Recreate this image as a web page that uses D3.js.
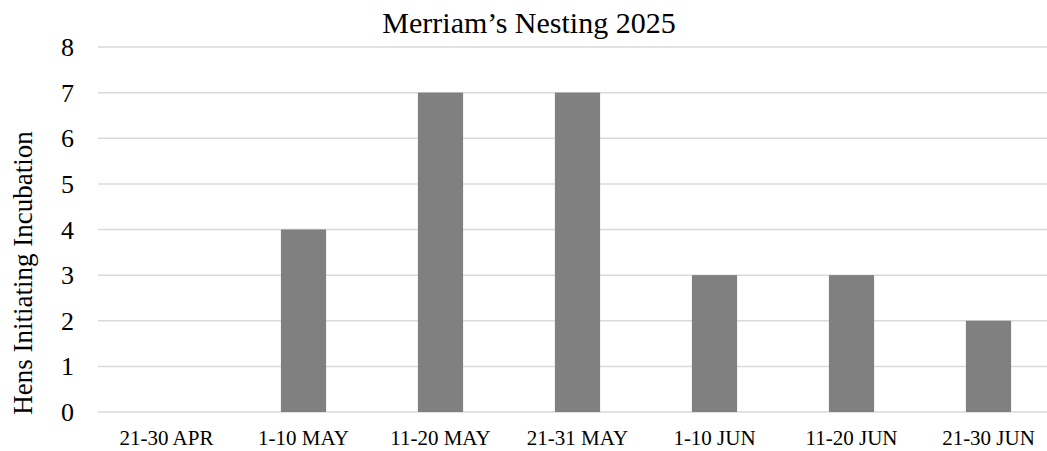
<!DOCTYPE html>
<html>
<head>
<meta charset="utf-8">
<script src="https://cdn.jsdelivr.net/npm/d3@7"></script>
<style>
  body { margin: 0; background: #fff; }
  text { font-family: "Liberation Serif", "Times New Roman", serif; fill: #000; }
</style>
</head>
<body>
<div id="chart"></div>
<script>
// chart data
const categories = ["21-30 APR", "1-10 MAY", "11-20 MAY", "21-31 MAY", "1-10 JUN", "11-20 JUN", "21-30 JUN"];
const hens = [0, 4, 7, 7, 3, 3, 2];
const yTicks = [0, 1, 2, 3, 4, 5, 6, 7, 8];

const width = 1047, height = 451;
const margin = { top: 47, right: -10, bottom: 39, left: 98 };

const svg = d3.select("#chart").append("svg")
    .attr("width", width)
    .attr("height", height);

const x = d3.scaleBand()
    .domain(categories)
    .range([margin.left, width - margin.right])
    .paddingInner(0.67)
    .paddingOuter(0.335);

const y = d3.scaleLinear()
    .domain([0, 8])
    .range([height - margin.bottom, margin.top]);

// gridlines
svg.append("g")
    .selectAll("line")
    .data(yTicks)
    .join("line")
    .attr("x1", margin.left)
    .attr("x2", width)
    .attr("y1", d => y(d))
    .attr("y2", d => y(d))
    .attr("stroke", "#d9d9d9")
    .attr("stroke-width", 1.5);

// y tick labels
svg.append("g")
    .selectAll("text")
    .data(yTicks)
    .join("text")
    .attr("x", 74)
    .attr("y", d => y(d))
    .attr("dy", "0.35em")
    .attr("text-anchor", "end")
    .style("font-size", "26px")
    .text(d => d);

// bars
svg.append("g")
    .selectAll("rect")
    .data(hens)
    .join("rect")
    .attr("x", (d, i) => x(categories[i]))
    .attr("width", x.bandwidth())
    .attr("y", d => y(d))
    .attr("height", d => y(0) - y(d))
    .attr("fill", "#808080");

// x labels (band centres)
const xc = d3.scalePoint()
    .domain(categories)
    .range([margin.left, width - margin.right])
    .padding(0.5);

svg.append("g")
    .selectAll("text")
    .data(categories)
    .join("text")
    .attr("x", d => xc(d))
    .attr("y", 445)
    .attr("text-anchor", "middle")
    .style("font-size", "21px")
    .text(d => d);

// title
svg.append("text")
    .attr("x", 529)
    .attr("y", 33)
    .attr("text-anchor", "middle")
    .style("font-size", "30px")
    .text("Merriam\u2019s Nesting 2025");

// y axis title
svg.append("text")
    .attr("transform", "translate(32,273) rotate(-90)")
    .attr("text-anchor", "middle")
    .style("font-size", "27px")
    .text("Hens Initiating Incubation");
</script>
</body>
</html>
